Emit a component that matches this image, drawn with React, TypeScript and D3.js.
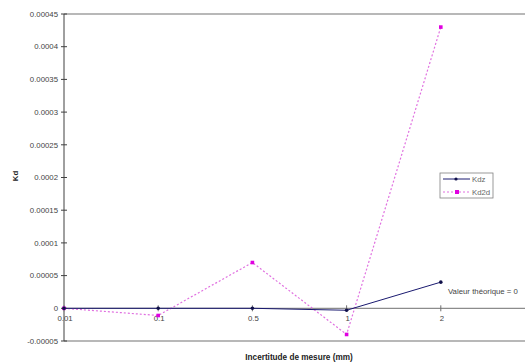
import React from "react";
import * as d3 from "d3";

const categories = ["0.01", "0.1", "0.5", "1", "2"];
const kdz = [0, 0, 0, -0.000003, 0.00004];
const kd2d = [0, -0.000011, 0.00007, -0.00004, 0.00043];
const yTicks = [0.00045, 0.0004, 0.00035, 0.0003, 0.00025, 0.0002, 0.00015, 0.0001, 0.00005, 0, -0.00005];
const yTickLabels = ["0.00045", "0.0004", "0.00035", "0.0003", "0.00025", "0.0002", "0.00015", "0.0001", "0.00005", "0", "-0.00005"];

const W = 525, H = 364;
const left = 64, top = 14, bottom = 341, stepX = 94.2;
const FONT = "'Liberation Sans', Arial, sans-serif";
const FS = 7.8;

export default function App() {
  const x = d3.scaleLinear().domain([0, 5]).range([left, left + stepX * 5]);
  const y = d3.scaleLinear().domain([-0.00005, 0.00045]).range([bottom, top]);
  const line = d3.line<number>().x((_, i) => x(i)).y((d) => y(d));
  const y0 = y(0);
  return (
    <svg width={W} height={H} style={{ position: "absolute", left: 0, top: 0, background: "#fff" }} fontFamily={FONT}>
      <line x1={left} x2={W + 20} y1={top} y2={top} stroke="#a0a0a0" strokeWidth={1.5} />
      <line x1={left} x2={W + 20} y1={bottom} y2={bottom} stroke="#a0a0a0" strokeWidth={1.5} />
      <line x1={left} x2={left} y1={top} y2={bottom} stroke="#404040" strokeWidth={1} />
      <line x1={left} x2={W + 20} y1={y0} y2={y0} stroke="#707070" strokeWidth={1} />
      {yTicks.map((t, i) => (
        <g key={i}>
          <line x1={left - 3} x2={left + 3} y1={y(t)} y2={y(t)} stroke="#404040" />
          <text x={left - 6} y={y(t)} dy="0.35em" textAnchor="end" fontSize={FS} fill="#444">{yTickLabels[i]}</text>
        </g>
      ))}
      {categories.map((c, i) => (
        <g key={c}>
          <line x1={x(i)} x2={x(i)} y1={y0 - 3} y2={y0 + 3} stroke="#707070" />
          <text x={x(i) + 1} y={y0 + 13} textAnchor="middle" fontSize={FS} fill="#444">{c}</text>
        </g>
      ))}
      <path d={line(kd2d) || ""} fill="none" stroke="#e070e0" strokeWidth={1.2} strokeDasharray="2,2" />
      <path d={line(kdz) || ""} fill="none" stroke="#1a1a70" strokeWidth={1} />
      {kd2d.map((v, i) => (
        <rect key={"b" + i} x={x(i) - 1.8} y={y(v) - 1.8} width={3.6} height={3.6} fill="#e000e0" />
      ))}
      {kdz.map((v, i) => (
        <circle key={"a" + i} cx={x(i)} cy={y(v)} r={1.8} fill="#10104a" />
      ))}
      <rect x={440} y={173} width={53} height={25} fill="#fff" stroke="#808080" strokeWidth={0.8} />
      <line x1={443} x2={470} y1={179} y2={179} stroke="#1a1a70" />
      <circle cx={456} cy={179} r={1.6} fill="#10104a" />
      <text x={472} y={179} dy="0.35em" fontSize={FS} fill="#666">Kdz</text>
      <line x1={443} x2={470} y1={192} y2={192} stroke="#e070e0" strokeDasharray="2,2" />
      <rect x={455} y={190} width={4} height={4} fill="#e000e0" />
      <text x={472} y={192} dy="0.35em" fontSize={FS} fill="#666">Kd2d</text>
      <text x={448} y={291} dy="0.35em" fontSize={FS} fill="#444">Valeur théorique = 0</text>
      <text x={299} y={360} textAnchor="middle" fontSize={8.2} fontWeight="bold" fill="#222">Incertitude de mesure (mm)</text>
      <text transform={`translate(18,176) rotate(-90)`} textAnchor="middle" fontSize={FS} fontWeight="bold" fill="#222">Kd</text>
    </svg>
  );
}
